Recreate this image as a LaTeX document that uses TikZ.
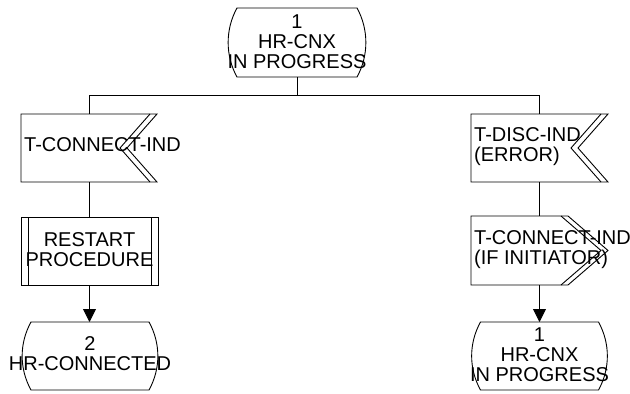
\documentclass[tikz,border=0pt]{standalone}
\usepackage{fontspec}
\setmainfont{Liberation Sans}
\usetikzlibrary{arrows.meta}
\newcommand\drawstate[1]{%
  \draw[ln] ([xshift=9pt]#1.north west) -- ([xshift=-9pt]#1.north east)
    .. controls ([xshift=2.8pt,yshift=-21.3pt]#1.north east) and ([xshift=2.8pt,yshift=21.3pt]#1.south east) .. ([xshift=-9pt]#1.south east)
    -- ([xshift=9pt]#1.south west)
    .. controls ([xshift=-2.8pt,yshift=21.3pt]#1.south west) and ([xshift=-2.8pt,yshift=-21.3pt]#1.north west) .. cycle;}
\newcommand\drawinput[1]{%
  \draw[ln] (#1.north west) -- (#1.north east) -- ([xshift=-30pt]#1.east) -- (#1.south east) -- (#1.south west) -- cycle;
  \draw[ln] ([xshift=-7pt]#1.north east) -- ([xshift=-37pt]#1.east) -- ([xshift=-7pt]#1.south east);}
\newcommand\drawoutput[1]{%
  \draw[ln] (#1.north west) -- ([xshift=-40pt]#1.north east) -- (#1.east) -- ([xshift=-40pt]#1.south east) -- (#1.south west) -- cycle;
  \draw[ln] ([xshift=-47pt]#1.north east) -- ([xshift=-7pt]#1.east) -- ([xshift=-47pt]#1.south east);}
\newcommand\drawproc[1]{%
  \draw[ln] (#1.north west) rectangle (#1.south east);
  \draw[ln] ([xshift=7pt]#1.north west) -- ([xshift=7pt]#1.south west);
  \draw[ln] ([xshift=-7pt]#1.north east) -- ([xshift=-7pt]#1.south east);}
\begin{document}
\begin{tikzpicture}[x=1pt,y=-1pt,
  ln/.style={line width=0.9pt, draw=black},
  area/.style={inner sep=0pt, outer sep=0pt, minimum width=#1},
  area/.default=136pt,
  lbl/.style={font=\fontsize{20}{20}\selectfont, inner sep=0pt, align=center},
  lbll/.style={font=\fontsize{20}{20}\selectfont, inner sep=0pt, align=left, anchor=west},
  arr/.style={ln, -{Triangle[length=13pt,width=13pt]}}
]
\useasboundingbox (0,0) rectangle (630,394);
% frames
\node[area=138pt, minimum height=69pt] (s1) at (297,42.5) {};
\node[area=136pt, minimum height=68pt] (in1) at (89,148) {};
\node[area=137pt, minimum height=68pt] (rp) at (89.5,251) {};
\node[area=136pt, minimum height=68pt] (s2) at (90,356) {};
\node[area=137pt, minimum height=68pt] (in2) at (539.5,148) {};
\node[area=137pt, minimum height=69pt] (out1) at (539.5,250.5) {};
\node[area=136pt, minimum height=68pt] (s3) at (539.5,356) {};
% shapes
\drawstate{s1}
\drawinput{in1}
\drawproc{rp}
\drawstate{s2}
\drawinput{in2}
\drawoutput{out1}
\drawstate{s3}
% texts
\node[lbl] (t1) at (297,42) {1\\HR-CNX\\IN PROGRESS};
\node[lbll] (t2) at (24,145) {T-CONNECT-IND};
\node[lbl] (t3) at (89.5,250) {RESTART\\PROCEDURE};
\node[lbl] (t4) at (90,354) {2\\HR-CONNECTED};
\node[lbll] (t5) at (474,147) {T-DISC-IND\\(ERROR)};
\node[lbll] (t6) at (474,250) {T-CONNECT-IND\\(IF INITIATOR)};
\node[lbl] (t7) at (539.5,355) {1\\HR-CNX\\IN PROGRESS};
% connectors
\coordinate (bus) at (0,95);
\draw[ln] (s1.south) -- (s1.south |- bus);
\draw[ln] (in1.north |- bus) -- (in2.north |- bus);
\draw[ln] (in1.north |- bus) -- (in1.north);
\draw[ln] (in2.north |- bus) -- (in2.north);
\draw[ln] (in1.south) -- (in1.south |- rp.north);
\draw[arr] (rp.south) -- (rp.south |- s2.north);
\draw[ln] (in2.south) -- (out1.north);
\draw[arr] (out1.south) -- (s3.north);
\end{tikzpicture}
\end{document}
